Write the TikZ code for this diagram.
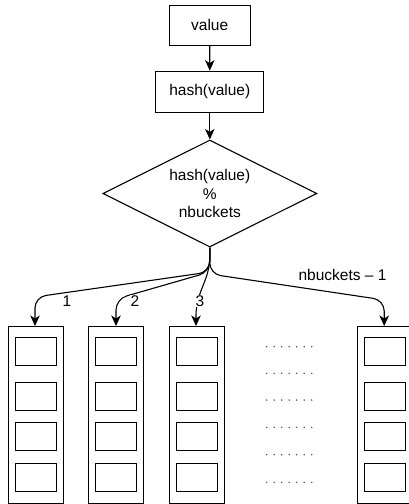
\documentclass[tikz,border=0pt]{standalone}
\usepackage{fontspec}
\setmainfont{Liberation Sans}
\usetikzlibrary{arrows.meta,shapes.geometric}

\begin{document}
\begin{tikzpicture}[x=1pt,y=-1pt,
  line width=1.1pt,
  font=\fontsize{15.5}{18.5}\selectfont,
  box/.style={draw, rectangle, inner sep=0pt},
  flow/.style={draw, -{Stealth[length=10.5pt,width=9.5pt,inset=3pt]}},
  fan/.style={flow, rounded corners=11pt},
  lbl/.style={fill=white, inner sep=1pt},
  dotmark/.style={fill=black!70, draw=none}
]
\useasboundingbox (0,0) rectangle (409,504);

% top of the flow
\node[box, minimum width=81pt, minimum height=40.5pt] (val) at (209.7,25.3) {value};
\node[box, minimum width=108pt, minimum height=41pt] (hash) at (209.8,91.7) {hash(value)};
\node[diamond, draw, minimum width=214pt, minimum height=107pt, inner sep=0pt] (mod) at (209.8,193.5) {};
\node[align=center] (modtxt) at (mod.center) {hash(value)\\\%\\nbuckets};

\draw[flow] (val) -- (hash);
\draw[flow] (hash) -- (mod.north);

% buckets, each with four slots
\foreach \n/\l in {b1/8, b2/88.3, b3/169, b4/357}{
  \node[box, anchor=north west, minimum width=54.5pt, minimum height=177.3pt] (\n) at (\l,326) {};
  \foreach \k/\t in {1/337.3, 2/381.7, 3/421.7, 4/462.7}{
    \node[box, anchor=north west, minimum width=41pt, minimum height=28pt] (\n s\k) at (\l+6.5,\t) {};
  }
}

% elided buckets
\foreach \r in {346.7, 373.3, 400, 427.3, 454.7, 482.3}{
  \foreach \i in {0,...,6}{
    \fill[dotmark] (266.7+\i*7.5,\r) circle (0.8pt);
  }
}

% fan-out to the buckets
\coordinate (j1) at (209.8,272);
\coordinate (c1) at (35,297);
\coordinate (c2) at (116,299);
\coordinate (c3) at (196,304);
\coordinate (c4) at (384.2,300);
\coordinate (j4) at (209.8,274);

\draw[fan] (mod.south) -- (j1) -- (c1) -- (c1 |- b1.north);
\draw[fan] (mod.south) -- (j1) -- (c2) -- (c2 |- b2.north);
\draw[fan] (mod.south) -- (209.8,268) -- (c3) -- (c3 |- b3.north);
\draw[fan] (mod.south) -- (j4) -- (c4) -- (c4 |- b4.north);

\node[lbl] (l1) at (67,301) {1};
\node[lbl] (l2) at (135,301) {2};
\node[lbl] (l3) at (200,301) {3};
\node (l4) at (342.5,275) {nbuckets -- 1};
\end{tikzpicture}
\end{document}
